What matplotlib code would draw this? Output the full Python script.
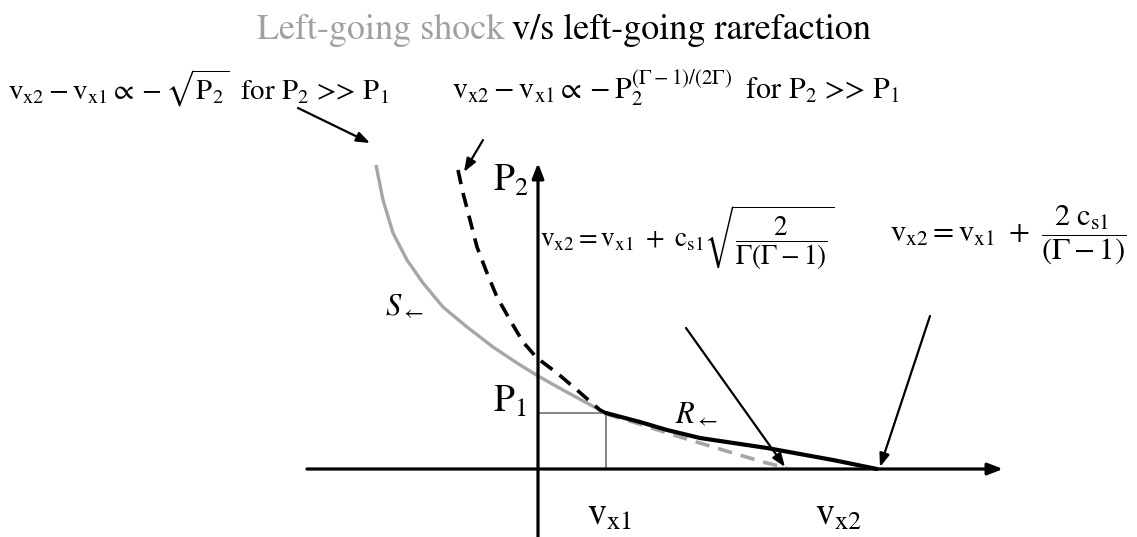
import numpy as np
import matplotlib.pyplot as plt

plt.rcParams['mathtext.fontset'] = 'stix'
plt.rcParams['font.family'] = ['STIXGeneral', 'Liberation Serif']

# state 1 on the (v_x, P) plane
vx1 = 68
P1 = 56

# left-going shock curve S (through state 1)
shock_v = [-162, -155, -145, -131, -115, -95, -71, -45, -21, 0, 25, 49, 65, 68]
shock_P = [304, 269, 236, 209, 186, 162, 142, 122, 106, 93, 79, 66, 57, 55]

# shock curve continued below P1 (dashed grey)
shock_ext_v = [68, 95, 129, 162, 195, 225, 249]
shock_ext_P = [55, 47, 36, 26, 16, 7, 1]

# rarefaction curve continued above P1 (dashed black)
rare_ext_v = [-80, -75, -68, -61, -51, -41, -28, -15, -1, 19, 39, 62, 68]
rare_ext_P = [299, 276, 249, 222, 196, 172, 149, 127, 111, 96, 79, 59, 56]

# left-going rarefaction curve R (solid black)
rare_v = [68, 102, 129, 162, 229, 295, 339]
rare_P = [56, 47, 39, 31, 21, 9, 0]

fig = plt.figure(figsize=(11.37, 5.37), dpi=100)
ax = fig.add_axes([0, 0, 1, 1])
ax.set_xlim(-538, 599)
ax.set_ylim(-68, 469)
ax.axis('off')

# axes with arrow heads
ax.annotate('', xy=(465, 0), xytext=(-231, 0),
            arrowprops=dict(arrowstyle='-|>,head_length=0.9,head_width=0.35', lw=2.3, color='black',
                            shrinkA=0, shrinkB=0))
ax.annotate('', xy=(0, 306), xytext=(0, -70),
            arrowprops=dict(arrowstyle='-|>,head_length=0.9,head_width=0.35', lw=2.3, color='black',
                            shrinkA=0, shrinkB=0))

# guide lines to state 1
ax.plot([0, vx1], [P1, P1], color='#666666', lw=1.1)
ax.plot([vx1, vx1], [P1, 0], color='#666666', lw=1.1)

ax.plot(shock_v, shock_P, color='#a6a6a6', lw=2.4, solid_capstyle='butt')
ax.plot(shock_ext_v, shock_ext_P, color='#a6a6a6', lw=2.6, ls=(0, (4, 2.5)))
ax.plot(rare_ext_v, rare_ext_P, color='black', lw=2.6, ls=(0, (4, 2.5)))
ax.plot(rare_v, rare_P, color='black', lw=3.0, solid_capstyle='round')

# pointer arrows
arrow_kw = dict(arrowstyle='-|>,head_length=0.8,head_width=0.3', lw=1.6, color='black',
                shrinkA=0, shrinkB=0)
ax.annotate('', xy=(-168, 326), xytext=(-240, 361), arrowprops=arrow_kw)
ax.annotate('', xy=(-74, 297), xytext=(-55, 329), arrowprops=arrow_kw)
ax.annotate('', xy=(247, 2), xytext=(148, 141), arrowprops=arrow_kw)
ax.annotate('', xy=(342, 2), xytext=(392, 153), arrowprops=arrow_kw)

# title, first half in grey
t1 = fig.text(0.226, 0.943, 'Left-going shock', color='#a0a0a0', fontsize=26, va='center')
fig.canvas.draw()
bb = t1.get_window_extent()
fig.text(bb.x1 / fig.bbox.width + 0.007, 0.943, 'v/s left-going rarefaction',
         color='black', fontsize=26, va='center')

# annotations
ax.text(-530, 381, r'$\mathrm{v}_{\mathrm{x2}} - \mathrm{v}_{\mathrm{x1}} \propto -\sqrt{\mathrm{P}_2}\;$ for $\mathrm{P}_2$ >> $\mathrm{P}_1$',
        fontsize=20.8, va='center', ha='left')
ax.text(-86, 381, r'$\mathrm{v}_{\mathrm{x2}} - \mathrm{v}_{\mathrm{x1}} \propto -\mathrm{P}_2^{(\Gamma-1)/(2\Gamma)}\;$ for $\mathrm{P}_2$ >> $\mathrm{P}_1$',
        fontsize=21.5, va='center', ha='left')
ax.text(2, 232, r'$\mathrm{v}_{\mathrm{x2}} = \mathrm{v}_{\mathrm{x1}}\ +\ \mathrm{c}_{\mathrm{s1}}\sqrt{\dfrac{2}{\Gamma(\Gamma-1)}}$',
        fontsize=19.5, va='center', ha='left')
ax.text(352, 234, r'$\mathrm{v}_{\mathrm{x2}} = \mathrm{v}_{\mathrm{x1}}\ +\ \dfrac{2\ \mathrm{c}_{\mathrm{s1}}}{(\Gamma-1)}$',
        fontsize=22, va='center', ha='left')

ax.text(-45, 288, r'$\mathrm{P}_2$', fontsize=27, va='center', ha='left')
ax.text(-45, 67, r'$\mathrm{P}_1$', fontsize=27, va='center', ha='left')
ax.text(-153, 162, r'$S_{\leftarrow}$', fontsize=22, va='center', ha='left')
ax.text(137, 54, r'$R_{\leftarrow}$', fontsize=22, va='center', ha='left')
ax.text(vx1 + 3, -47, r'$\mathrm{v}_{\mathrm{x1}}$', fontsize=27, va='center', ha='center')
ax.text(300, -47, r'$\mathrm{v}_{\mathrm{x2}}$', fontsize=27, va='center', ha='center')

fig.savefig('out.png', dpi=100)
